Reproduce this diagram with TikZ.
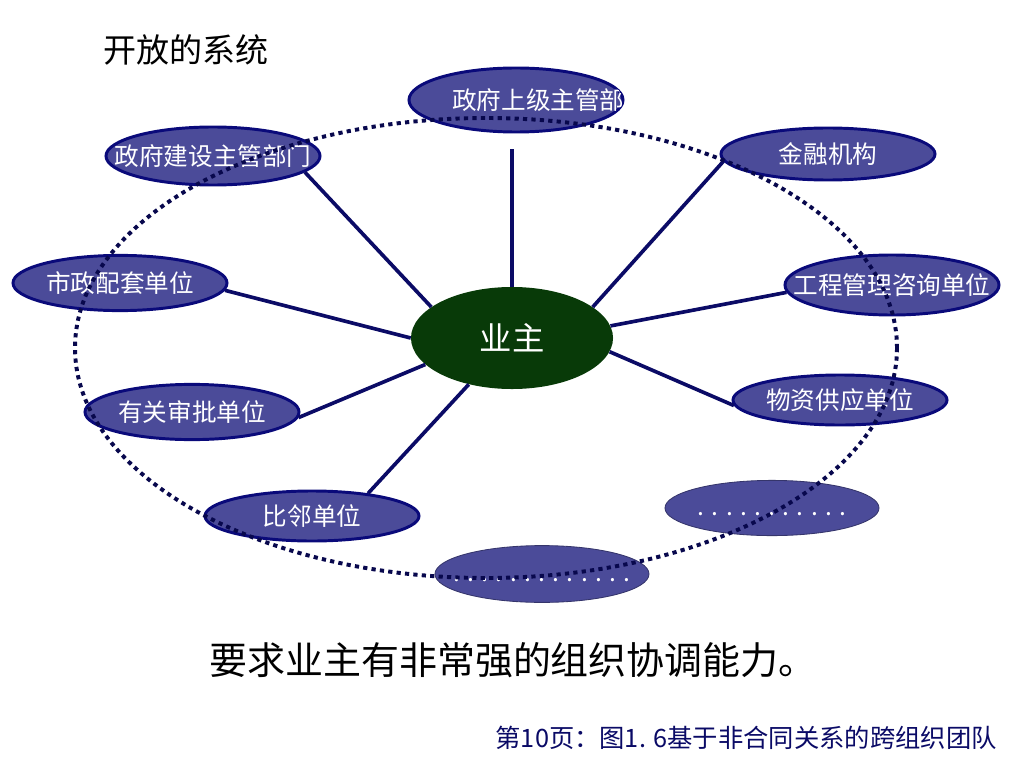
\documentclass[tikz,border=0pt]{standalone}
\usepackage{fontspec}
\setmainfont{Noto Sans CJK SC}
\usetikzlibrary{shapes.geometric}
\definecolor{orgfill}{HTML}{4B4B99}
\definecolor{orgline}{HTML}{0A0A7A}
\definecolor{ownergreen}{HTML}{083A08}
\definecolor{spokenavy}{HTML}{0B0B66}
\definecolor{ringnavy}{HTML}{08084D}
\definecolor{footnavy}{HTML}{0A0A66}

\begin{document}
\begin{tikzpicture}[
  x=0.025cm, y=-0.025cm,
  org/.style={
    ellipse, draw=orgline, line width=2.1pt, fill=orgfill,
    text=white, inner sep=0pt, minimum width=5.35cm,
    font=\fontsize{17.5}{20}\selectfont
  },
  more/.style={org, draw=orgfill!70!black, line width=0.6pt},
  owner/.style={
    ellipse, fill=ownergreen, text=white, inner sep=0pt,
    minimum width=5.05cm, minimum height=2.55cm,
    font=\fontsize{23}{26}\selectfont
  },
  spoke/.style={spokenavy, line width=2.6pt},
  ring/.style={ringnavy, line width=2.8pt, dash pattern=on 3pt off 3pt},
]
  \useasboundingbox (0,0) rectangle (1024,768);

  % Titel
  \node[anchor=west, inner sep=0pt, font=\fontsize{23.5}{26}\selectfont] (title) at (103,50) {开放的系统};

  % Zentrum
  \node[owner] (owner) at (512,338) {\makebox[0pt]{业主}};

  % Beteiligte
  \node[org, minimum height=1.6cm] (govtop) at (516,100) {};
  \begin{scope}
    \clip (516,100) ellipse [x radius=107, y radius=33];
    \node[anchor=west, inner sep=0pt, text=white, font=\fontsize{17.5}{20}\selectfont] (govtoptext) at (452,100) {政府上级主管部};
  \end{scope}
  \node[org, minimum height=1.45cm] (build)  at (213,156) {\makebox[0pt]{政府建设主管部门}};
  \node[org, minimum height=1.3cm]  (bank)   at (828,154) {\makebox[0pt]{金融机构}};
  \node[org, minimum height=1.38cm] (muni)   at (120,283) {\makebox[0pt]{市政配套单位}};
  \node[org, minimum height=1.5cm]  (eng)    at (892,285) {\makebox[0pt]{工程管理咨询单位}};
  \node[org, minimum height=1.38cm] (appr)   at (192,412) {\makebox[0pt]{有关审批单位}};
  \node[org, minimum height=1.25cm] (supply) at (840,400) {\makebox[0pt]{物资供应单位}};
  \node[org, minimum height=1.25cm] (neigh)  at (312,516) {\makebox[0pt]{比邻单位}};
  \node[more, minimum height=1.38cm] (moreA) at (772,508) {\makebox[0pt]{\raisebox{-1.2ex}{. . . . . . . . . . .}}};
  \node[more, minimum height=1.42cm] (moreB) at (542,574) {\makebox[0pt]{\raisebox{-1.2ex}{. . . . . . . . . . . . .}}};

  % Verbindungen
  \draw[spoke, shorten >=0.4cm] (owner.north) -- (owner.north |- govtop.south);
  \draw[spoke] (owner.159) -- (build.-10);
  \draw[spoke] (owner.21)  -- (bank.184);
  \draw[spoke] (owner.west) -- (muni.-4);
  \draw[spoke] (owner.7)   -- (eng.184);
  \draw[spoke] (owner.197) -- (appr.-3);
  \draw[spoke] (owner.-8)  -- (supply.183);
  \draw[spoke] (owner.227) -- (neigh.22);

  % Systemgrenze
  \draw[ring] (486,348) ellipse [x radius=411, y radius=230];

  % Texte unten
  \node[inner sep=0pt, font=\fontsize{27}{30}\selectfont] (claim) at (513,660) {要求业主有非常强的组织协调能力。};
  \node[anchor=east, inner sep=0pt, text=footnavy, font=\fontsize{18}{21}\selectfont] (foot) at (997,738) {第10页：图1. 6基于非合同关系的跨组织团队};
\end{tikzpicture}
\end{document}
